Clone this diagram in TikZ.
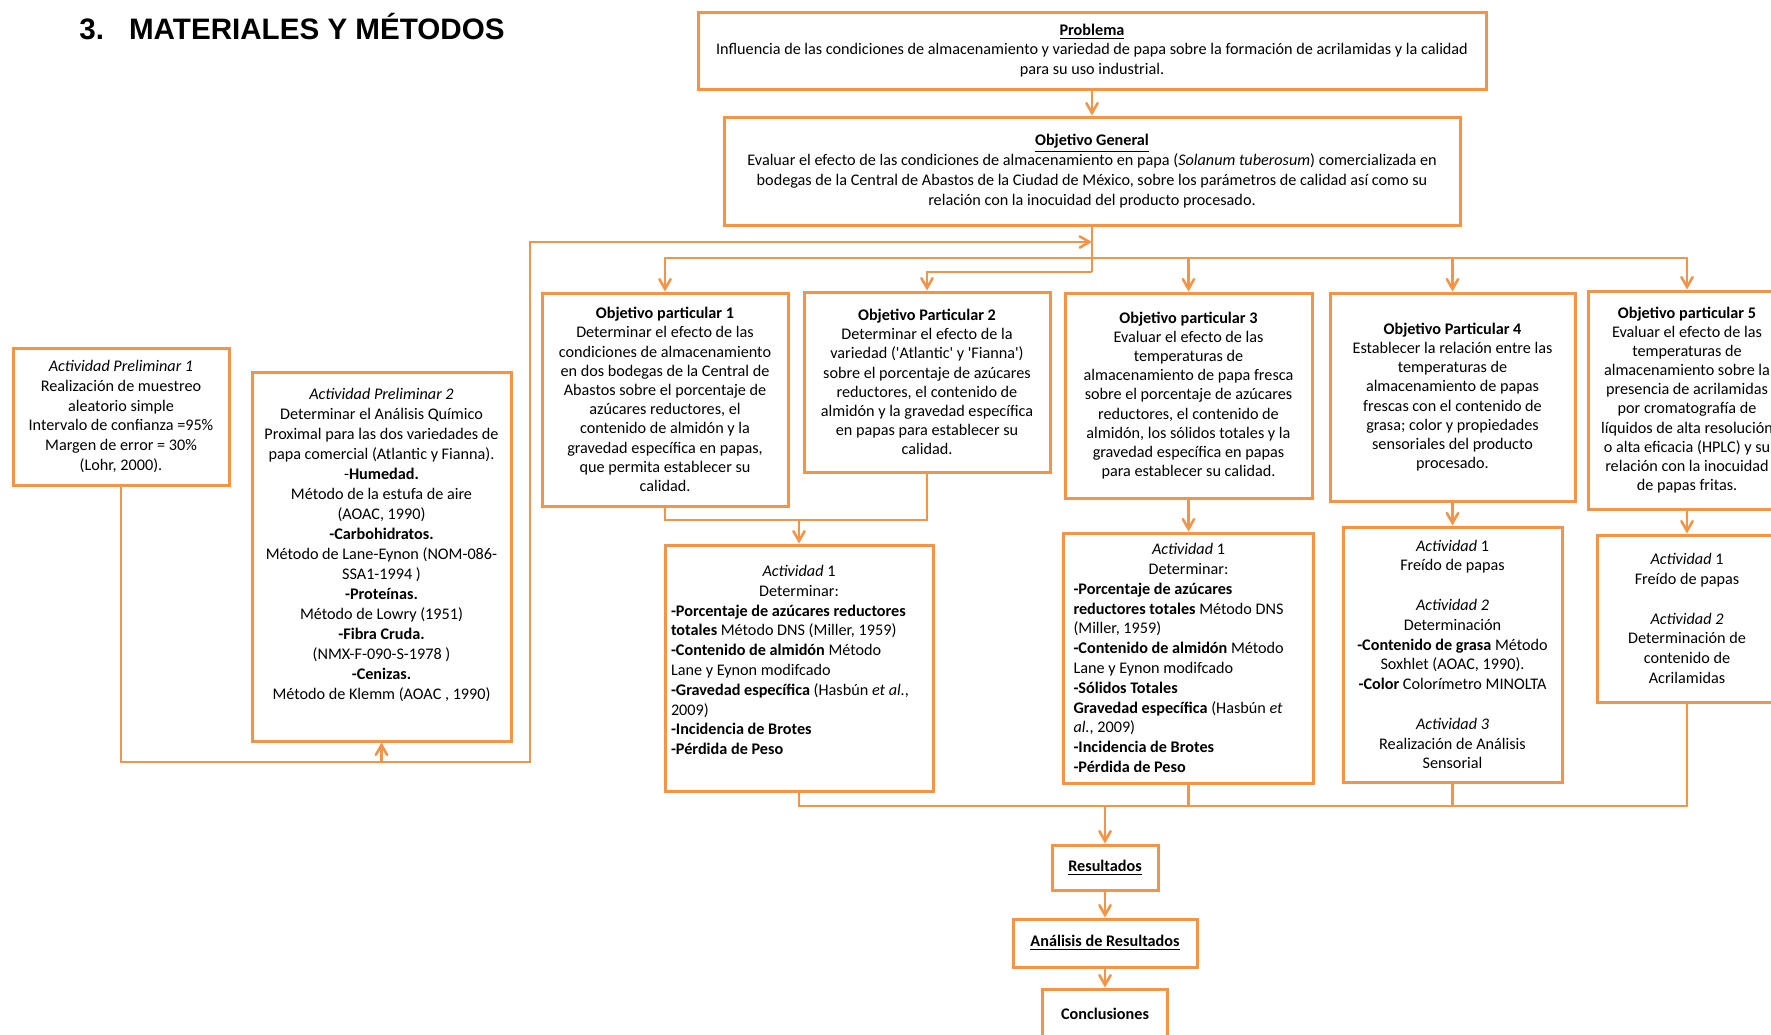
\documentclass[tikz,border=0pt]{standalone}
\usepackage{fontspec}
\setmainfont{Carlito}
\newfontfamily\titulofont{Liberation Sans}
\usetikzlibrary{arrows}
\definecolor{naranja}{RGB}{242,148,74}

\begin{document}
\begin{tikzpicture}[x=0.5pt,y=-0.5pt,>=angle 60,node distance=37.75pt,
    caja/.style={draw=naranja,line width=1.5pt,fill=white,align=center,inner sep=0pt,font=\fontsize{8.1}{9.9}\selectfont},
    objetivo/.style={caja,font=\fontsize{8.1}{9.6}\selectfont},
    flecha/.style={->,draw=naranja,line width=1.3pt},
    linea/.style={draw=naranja,line width=1.3pt}]
  \useasboundingbox (0,0) rectangle (1771,1034);
  \clip (0,0) rectangle (1771,1034);

  \node[anchor=west,inner sep=0pt,font=\titulofont\bfseries\fontsize{14.8}{17}\selectfont] (titulo) at (79,27) {3.\hspace{12.5pt}MATERIALES Y MÉTODOS};

  \node[caja,minimum width=394pt,minimum height=38.5pt] (prob) at (1092,50.5) {\underline{\textbf{Problema}}\\Influencia de las condiciones de almacenamiento y variedad de papa sobre la formación de acrilamidas y la calidad\\para su uso industrial.};
  \node[caja,minimum width=368pt,minimum height=54pt] (og) at (1092,171) {\underline{\textbf{Objetivo General}}\\Evaluar el efecto de las condiciones de almacenamiento en papa (\textit{Solanum tuberosum}) comercializada en\\bodegas de la Central de Abastos de la Ciudad de México, sobre los parámetros de calidad así como su\\relación con la inocuidad del producto procesado.};

  \node[objetivo,minimum width=123pt,minimum height=106.5pt] (op1) at (665,399.5) {\textbf{Objetivo particular 1}\\Determinar el efecto de las\\condiciones de almacenamiento\\en dos bodegas de la Central de\\Abastos sobre el porcentaje de\\azúcares reductores, el\\contenido de almidón y la\\gravedad específica en papas,\\que permita establecer su\\calidad.};
  \node[objetivo,minimum width=123pt,minimum height=90pt] (op2) at (927,382) {\textbf{Objetivo Particular 2}\\Determinar el efecto de la\\variedad (\textquotesingle Atlantic\textquotesingle{} y \textquotesingle Fianna\textquotesingle)\\sobre el porcentaje de azúcares\\reductores, el contenido de\\almidón y la gravedad específica\\en papas para establecer su\\calidad.};
  \node[objetivo,minimum width=123.5pt,minimum height=102.5pt] (op3) at (1188.5,395.5) {\textbf{Objetivo particular 3}\\Evaluar el efecto de las\\temperaturas de\\almacenamiento de papa fresca\\sobre el porcentaje de azúcares\\reductores, el contenido de\\almidón, los sólidos totales y la\\gravedad específica en papas\\para establecer su calidad.};
  \node[objetivo,minimum width=122.5pt,minimum height=104pt] (op4) at (1452.5,397) {\textbf{Objetivo Particular 4}\\Establecer la relación entre las\\temperaturas de\\almacenamiento de papas\\frescas con el contenido de\\grasa; color y propiedades\\sensoriales del producto\\procesado.};
  \node[objetivo,minimum width=99pt,minimum height=109pt] (op5) at (1687,400) {\textbf{Objetivo particular 5}\\Evaluar el efecto de las\\temperaturas de\\almacenamiento sobre la\\presencia de acrilamidas\\por cromatografía de\\líquidos de alta resolución\\o alta eficacia (HPLC) y su\\relación con la inocuidad\\de papas fritas.};

  \node[caja,minimum width=108pt,minimum height=68.5pt] (ap1) at (121,416.5) {\textit{Actividad Preliminar 1}\\Realización de muestreo\\aleatorio simple\\Intervalo de confianza =95\%\\Margen de error = 30\%\\(Lohr, 2000).};
  \node[caja,minimum width=129.5pt,minimum height=184.5pt,font=\fontsize{8.1}{10}\selectfont] (ap2) at (381.5,556.5) {\textit{Actividad Preliminar 2}\\Determinar el Análisis Químico\\Proximal para las dos variedades de\\papa comercial (Atlantic y Fianna).\\-\textbf{Humedad.}\\Método de la estufa de aire\\(AOAC, 1990)\\\textbf{-Carbohidratos.}\\Método de Lane-Eynon (NOM-086-\\SSA1-1994 )\\\textbf{-Proteínas.}\\Método de Lowry (1951)\\\textbf{-Fibra Cruda.}\\(NMX-F-090-S-1978 )\\\textbf{-Cenizas.}\\Método de Klemm (AOAC , 1990)\\[3pt]};

  \node[caja,align=left,text width=128pt,minimum width=134pt,minimum height=123pt] (a1) at (799,668) {\spaceskip=0pt\xspaceskip=0pt{\centering\textit{Actividad} 1\\Determinar:\par}\textbf{-Porcentaje de azúcares reductores}\\\textbf{totales} Método DNS (Miller, 1959)\\\textbf{-Contenido de almidón} Método\\Lane y Eynon modifcado\\\textbf{-Gravedad específica} (Hasbún \textit{et al.},\\2009)\\\textbf{-Incidencia de Brotes}\\\textbf{-Pérdida de Peso}\par\kern8pt\hrule height 0pt};
  \node[caja,align=left,text width=115pt,minimum width=125pt,minimum height=125pt] (a3) at (1188.5,658) {\spaceskip=0pt\xspaceskip=0pt{\centering\textit{Actividad} 1\\Determinar:\par}\textbf{-Porcentaje de azúcares}\\\textbf{reductores totales} Método DNS\\(Miller, 1959)\\\textbf{-Contenido de almidón} Método\\Lane y Eynon modifcado\\\textbf{-Sólidos Totales}\\\textbf{Gravedad específica} (Hasbún \textit{et}\\\textit{al.}, 2009)\\\textbf{-Incidencia de Brotes}\\\textbf{-Pérdida de Peso}};
  \node[caja,minimum width=109.5pt,minimum height=127.5pt] (a4) at (1452.5,654.5) {\textit{Actividad} 1\\Freído de papas\\[9.9pt]\textit{Actividad 2}\\Determinación\\\textbf{-Contenido de grasa} Método\\Soxhlet (AOAC, 1990).\\\textbf{-Color} Colorímetro MINOLTA\\[9.9pt]\textit{Actividad 3}\\Realización de Análisis\\Sensorial};
  \node[caja,minimum width=90pt,minimum height=83.5pt] (a5) at (1687,618.5) {\textit{Actividad} 1\\Freído de papas\\[9.9pt]\textit{Actividad 2}\\Determinación de\\contenido de\\Acrilamidas};

  \node[caja,minimum width=53pt,minimum height=22.5pt] (res) at (1105,867.5) {\underline{\textbf{Resultados}}};
  \node[caja,minimum width=92pt,minimum height=24pt] (ana) [below of=res] {\underline{\textbf{Análisis de Resultados}}};
  \node[caja,minimum width=62.5pt,minimum height=25pt,node distance=35.5pt] (conc) [below of=ana] {\textbf{Conclusiones}};

  \coordinate (br) at (1092,258);
  \coordinate (br2) at (1092,272);
  \coordinate (lpA) at (530,762);
  \coordinate (lpB) at (530,242);
  \coordinate (j1) at (799,520);
  \coordinate (j2) at (1105,806);

  \draw[flecha] (prob) -- (og);
  \draw[linea] (og.south) -- (br2);
  \draw[flecha] (br2) -| (op2.north);
  \draw[flecha] (br) -| (op1.north);
  \draw[flecha] (br) -| (op3.north);
  \draw[flecha] (br) -| (op4.north);
  \draw[flecha] (br) -| (op5.north);

  \draw[flecha] (ap1.south) |- (lpA) -- (lpB) -- (og.south |- lpB);
  \draw[flecha] (ap2.south |- lpA) -- (ap2.south);

  \draw[linea] (op1.south) |- (j1) -| (op2.south);
  \draw[flecha] (j1) -- (a1.north);
  \draw[flecha] (op3.south) -- (a3.north);
  \draw[flecha] (op4.south) -- (a4.north);
  \draw[flecha] (op5.south) -- (a5.north);

  \draw[linea] (a1.south) |- (j2) -| (a5.south);
  \draw[linea] (a3.south) -- (a3.south |- j2);
  \draw[linea] (a4.south) -- (a4.south |- j2);
  \draw[flecha] (j2) -- (res);
  \draw[flecha] (res) -- (ana);
  \draw[flecha] (ana) -- (conc);
\end{tikzpicture}
\end{document}
